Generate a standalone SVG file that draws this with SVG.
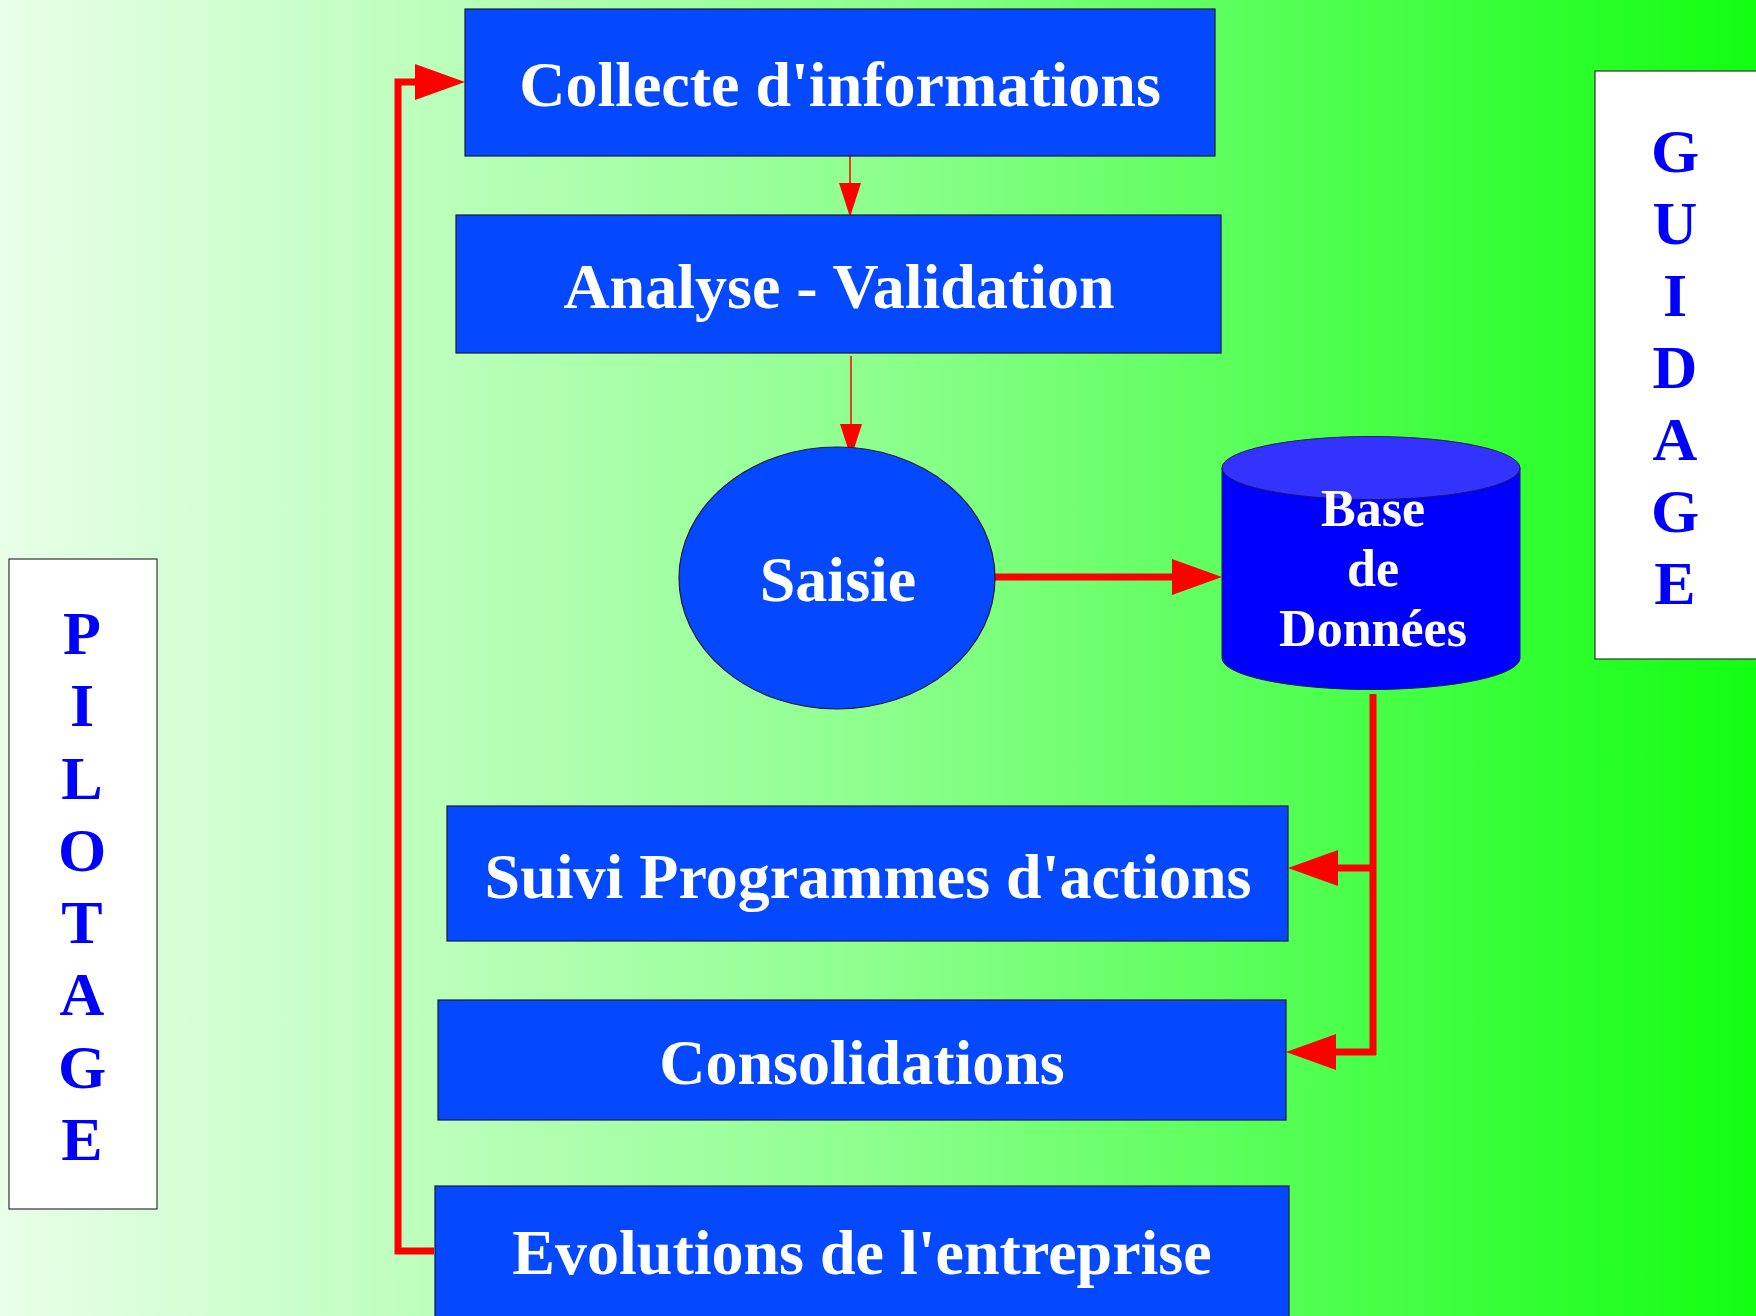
<svg xmlns="http://www.w3.org/2000/svg" width="1756" height="1316" viewBox="0 0 1756 1316">
<defs>
<linearGradient id="bg" x1="0" y1="0" x2="1" y2="0">
<stop offset="0" stop-color="#e8ffe8"/>
<stop offset="0.5" stop-color="#8dff8d"/>
<stop offset="1" stop-color="#12ff12"/>
</linearGradient>
<marker id="thick" markerUnits="userSpaceOnUse" markerWidth="50" markerHeight="36" refX="0" refY="18" orient="auto" overflow="visible">
<path d="M0,0 L50,18 L0,36 Z" fill="#ff0000"/>
</marker>
<marker id="thin" markerUnits="userSpaceOnUse" markerWidth="34" markerHeight="22" refX="0" refY="11" orient="auto" overflow="visible">
<path d="M0,0 L34,11 L0,22 Z" fill="#ff0000"/>
</marker>
</defs>
<style>
.box{fill:#0448ff;stroke:#1a1a3a;stroke-width:1.2}
.lbl{font-family:"Liberation Serif","Times New Roman",serif;font-weight:bold;fill:#ffffff;text-anchor:middle}
.side{fill:#ffffff;stroke:#333333;stroke-width:1.2}
.vl{font-family:"Liberation Serif","Times New Roman",serif;font-weight:bold;fill:#0000ff;text-anchor:middle;font-size:62px}
.thin{stroke:#ff0000;stroke-width:1.5;fill:none}
.thk{stroke:#ff0000;stroke-width:7;fill:none}
</style>
<rect x="0" y="0" width="1756" height="1316" fill="url(#bg)"/>

<g id="connectors">
<line class="thin" x1="850" y1="156" x2="850" y2="183" marker-end="url(#thin)"/>
<line class="thin" x1="851" y1="356" x2="851" y2="424" marker-end="url(#thin)"/>
<line class="thk" x1="992" y1="577" x2="1172" y2="577" marker-end="url(#thick)"/>
<line class="thk" x1="1373" y1="694" x2="1373" y2="1055"/>
<path class="thk" d="M1376,868 H1338" marker-end="url(#thick)"/>
<path class="thk" d="M1376,1052 H1336" marker-end="url(#thick)"/>
<path class="thk" d="M434,1251 H398 V82 H415" marker-end="url(#thick)"/>
</g>

<g id="collecte">
<rect class="box" x="465" y="9" width="750" height="147"/>
<text class="lbl" x="840" y="106" font-size="64">Collecte d'informations</text>
</g>

<g id="analyse">
<rect class="box" x="456" y="215" width="765" height="138"/>
<text class="lbl" x="839" y="308" font-size="64">Analyse - Validation</text>
</g>

<g id="saisie">
<ellipse cx="837" cy="578" rx="158" ry="131" fill="#0448ff" stroke="#1a1a3a" stroke-width="1.2"/>
<text class="lbl" x="838" y="601" font-size="64">Saisie</text>
</g>

<g id="base">
<path d="M1222,468 V658 A149,31.5 0 0 0 1520,658 V468 Z" fill="#0000ff" stroke="#1a1a5a" stroke-width="1"/>
<ellipse cx="1371" cy="468" rx="149" ry="31.5" fill="#3333ff" stroke="#1a1a5a" stroke-width="1"/>
<text class="lbl" x="1373" y="526" font-size="52">Base</text>
<text class="lbl" x="1373" y="586" font-size="52">de</text>
<text class="lbl" x="1373" y="646" font-size="52">Données</text>
</g>

<g id="suivi">
<rect class="box" x="447" y="806" width="841" height="135"/>
<text class="lbl" x="868" y="898" font-size="64">Suivi Programmes d'actions</text>
</g>

<g id="consolidations">
<rect class="box" x="438" y="1000" width="848" height="120"/>
<text class="lbl" x="862" y="1084" font-size="64">Consolidations</text>
</g>

<g id="evolutions">
<rect class="box" x="435" y="1186" width="854" height="140"/>
<text class="lbl" x="862" y="1274" font-size="64">Evolutions de l'entreprise</text>
</g>

<g id="pilotage">
<rect class="side" x="9" y="559" width="148" height="650"/>
<text class="vl" x="82" y="654">P</text>
<text class="vl" x="82" y="726">I</text>
<text class="vl" x="82" y="799">L</text>
<text class="vl" x="82" y="871">O</text>
<text class="vl" x="82" y="943">T</text>
<text class="vl" x="82" y="1015">A</text>
<text class="vl" x="82" y="1088">G</text>
<text class="vl" x="82" y="1160">E</text>
</g>

<g id="guidage">
<rect class="side" x="1595" y="71" width="170" height="588"/>
<text class="vl" x="1675" y="172">G</text>
<text class="vl" x="1675" y="244">U</text>
<text class="vl" x="1675" y="316">I</text>
<text class="vl" x="1675" y="388">D</text>
<text class="vl" x="1675" y="460">A</text>
<text class="vl" x="1675" y="532">G</text>
<text class="vl" x="1675" y="604">E</text>
</g>
</svg>
